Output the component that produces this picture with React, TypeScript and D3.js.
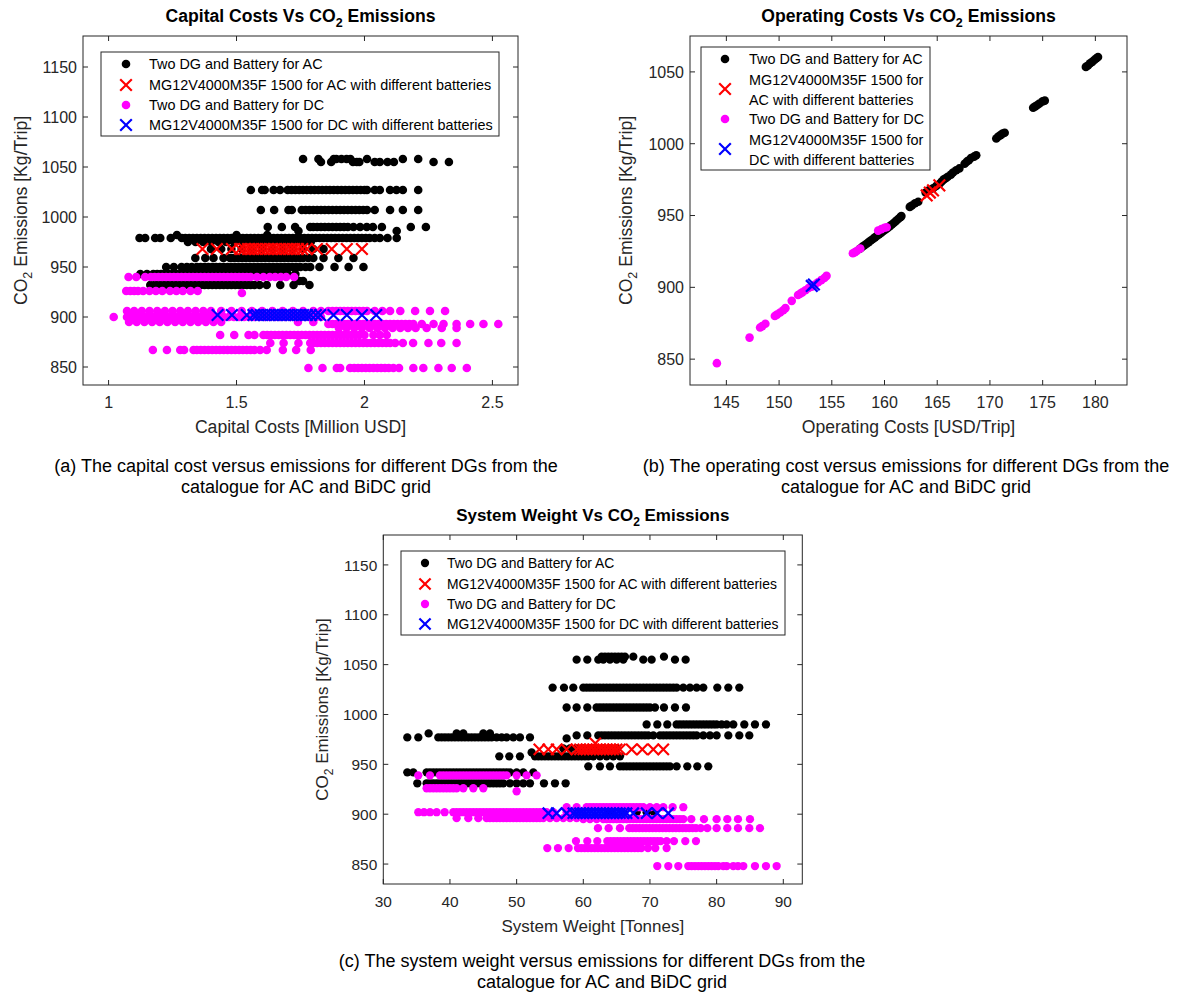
import React from "react";
import * as d3 from "d3";

type Row = [number, number[]];
type Pt = [number, number];

const FONT = "'Liberation Sans', Arial, Helvetica, sans-serif";
const AXIS = "#262626";

// ---------- Panel (a): Capital cost [Million USD] vs CO2 ----------
const capitalAC: Row[] = [
  [1058, [1.76, 1.82, 1.88, 1.89, 1.91, 1.93, 1.945, 2.01, 2.15, 2.21]],
  [1055, [1.83, 1.87, 1.955, 1.97, 1.98, 2.04, 2.06, 2.09, 2.115, 2.27, 2.33]],
  [1027, [1.556, 1.6, 1.61, 1.645, 1.67, 1.7, 1.715, 1.73, 1.745, 1.76, 1.775, 1.79, 1.805, 1.82, 1.835, 1.85, 1.865, 1.88, 1.895, 1.91, 1.925, 1.94, 1.955, 1.97, 1.985, 2.0, 2.01, 2.04, 2.06, 2.1, 2.125, 2.15, 2.21]],
  [1007, [1.595, 1.647, 1.703, 1.716, 1.755, 1.77, 1.785, 1.8, 1.815, 1.83, 1.845, 1.86, 1.875, 1.89, 1.905, 1.92, 1.935, 1.95, 1.965, 1.98, 1.995, 2.01, 2.04, 2.1, 2.15, 2.21]],
  [990, [1.622, 1.677, 1.729, 1.788, 1.8, 1.815, 1.83, 1.845, 1.86, 1.875, 1.89, 1.905, 1.92, 1.935, 1.957, 1.983, 2.009, 2.033, 2.068, 2.181, 2.24]],
  [986, [1.742, 2.126]],
  [982, [1.267, 1.5, 1.62]],
  [979, [1.121, 1.143, 1.182, 1.202, 1.243, 1.286, 1.3, 1.315, 1.33, 1.345, 1.36, 1.375, 1.39, 1.405, 1.42, 1.435, 1.45, 1.465, 1.48, 1.495, 1.51, 1.525, 1.54, 1.555, 1.57, 1.585, 1.6, 1.615, 1.63, 1.645, 1.66, 1.675, 1.69, 1.705, 1.72, 1.735, 1.75, 1.765, 1.78, 1.795, 1.81, 1.825, 1.84, 1.855, 1.87, 1.885, 1.9, 1.915, 1.93, 1.945, 1.96, 1.975, 1.99, 2.005, 2.02, 2.04, 2.06, 2.09, 2.126]],
  [975, [1.31, 1.34, 1.37, 1.4, 1.43, 1.46, 1.49, 1.52, 1.55, 1.58, 1.61, 1.64, 1.67, 1.7, 1.73, 1.76, 1.79]],
  [968, [1.4, 1.44, 1.48, 1.52, 1.56, 1.6, 1.64, 1.68, 1.72, 1.76, 1.8, 1.84]],
  [959, [1.339, 1.378, 1.41, 1.449, 1.475, 1.49, 1.505, 1.52, 1.535, 1.55, 1.565, 1.58, 1.595, 1.61, 1.625, 1.64, 1.655, 1.67, 1.685, 1.7, 1.715, 1.73, 1.745, 1.76, 1.78, 1.8, 1.84, 1.898, 1.957]],
  [950, [1.225, 1.255, 1.285, 1.306, 1.325, 1.345, 1.36, 1.375, 1.39, 1.405, 1.42, 1.435, 1.45, 1.465, 1.48, 1.495, 1.51, 1.525, 1.54, 1.555, 1.57, 1.585, 1.6, 1.615, 1.63, 1.645, 1.66, 1.675, 1.69, 1.705, 1.72, 1.735, 1.75, 1.77, 1.788, 1.824, 1.883, 1.938, 1.996]],
  [943, [1.124, 1.15, 1.175, 1.19, 1.205, 1.22, 1.235, 1.25, 1.265, 1.28, 1.295, 1.31, 1.325, 1.34, 1.355, 1.37, 1.385, 1.4, 1.415, 1.43, 1.445, 1.46, 1.475, 1.49, 1.505, 1.52, 1.535, 1.55, 1.565, 1.58, 1.6, 1.62, 1.64, 1.66, 1.68, 1.7, 1.73]],
  [936, [1.745, 1.76]],
  [932, [1.163, 1.18, 1.195, 1.21, 1.225, 1.24, 1.255, 1.27, 1.285, 1.3, 1.315, 1.33, 1.345, 1.36, 1.375, 1.39, 1.405, 1.42, 1.435, 1.45, 1.465, 1.48, 1.495, 1.51, 1.525, 1.54, 1.555, 1.57, 1.59, 1.618, 1.671, 1.723, 1.785]],
  [902, [1.12, 1.56, 1.58]],
];
const capitalACMG: Row[] = [
  [968, [1.367, 1.423, 1.482, 1.514, 1.53, 1.545, 1.56, 1.575, 1.59, 1.605, 1.62, 1.635, 1.65, 1.665, 1.68, 1.695, 1.71, 1.725, 1.74, 1.757, 1.775, 1.814, 1.872, 1.931, 1.99]],
];
const capitalDC: Row[] = [
  [940, [1.078, 1.108, 1.143, 1.165, 1.18, 1.195, 1.21, 1.225, 1.24, 1.255, 1.27, 1.285, 1.3, 1.315, 1.33, 1.345, 1.36, 1.375, 1.39, 1.405, 1.42, 1.435, 1.45, 1.465, 1.48, 1.495, 1.51, 1.525, 1.54, 1.555, 1.58, 1.605, 1.63, 1.651, 1.673, 1.694, 1.725]],
  [926, [1.069, 1.085, 1.1, 1.115, 1.135, 1.16, 1.185, 1.21, 1.24, 1.265, 1.29, 1.32, 1.348]],
  [924, [1.521]],
  [906, [1.072, 1.1, 1.13, 1.16, 1.19, 1.22, 1.25, 1.28, 1.31, 1.34, 1.37, 1.4, 1.44, 1.48, 1.52, 1.56, 1.6, 1.64, 1.68, 1.72, 1.76, 1.8, 1.83, 1.859, 1.875, 1.89, 1.905, 1.92, 1.935, 1.95, 1.965, 1.98, 1.995, 2.01, 2.04, 2.07, 2.1, 2.14, 2.198, 2.256, 2.315]],
  [900, [1.02, 1.072, 1.085, 1.1, 1.115, 1.13, 1.145, 1.16, 1.175, 1.19, 1.205, 1.22, 1.235, 1.25, 1.265, 1.28, 1.295, 1.31, 1.325, 1.34, 1.355, 1.37, 1.385, 1.4, 1.415, 1.43, 1.45, 1.47, 1.49, 1.51, 1.53, 1.55, 1.57, 1.59, 1.61, 1.63, 1.65, 1.67, 1.69, 1.71, 1.73, 1.75, 1.77, 1.79, 1.81, 1.83]],
  [895, [1.08, 1.11, 1.14, 1.17, 1.2, 1.23, 1.26, 1.29, 1.32, 1.35, 1.38, 1.41, 1.44, 1.74, 1.8]],
  [893, [1.859, 1.875, 1.89, 1.905, 1.92, 1.935, 1.95, 1.965, 1.98, 1.995, 2.01, 2.025, 2.04, 2.055, 2.07, 2.085, 2.1, 2.115, 2.13, 2.145, 2.16, 2.175, 2.191, 2.224, 2.27, 2.309, 2.36, 2.413, 2.465, 2.523]],
  [889, [1.9, 1.93, 1.96, 1.99, 2.02, 2.05, 2.08, 2.11, 2.14, 2.17, 2.2, 2.243, 2.302, 2.36]],
  [882, [1.436, 1.491, 1.547, 1.57, 1.605, 1.62, 1.635, 1.65, 1.665, 1.68, 1.695, 1.71, 1.725, 1.74, 1.755, 1.77, 1.785, 1.8, 1.815, 1.83, 1.845, 1.86, 1.875, 1.89, 1.905, 1.92, 1.935, 1.95, 1.965, 1.98, 2.0, 2.035, 2.06, 2.087]],
  [874, [1.632, 1.684, 1.742, 1.788, 1.8, 1.815, 1.83, 1.845, 1.86, 1.875, 1.89, 1.905, 1.92, 1.935, 1.95, 1.965, 1.98, 1.995, 2.01, 2.025, 2.04, 2.055, 2.07, 2.085, 2.1, 2.12, 2.15, 2.19, 2.25, 2.3, 2.36]],
  [867, [1.173, 1.228, 1.28, 1.295, 1.332, 1.345, 1.36, 1.375, 1.39, 1.405, 1.42, 1.435, 1.45, 1.465, 1.48, 1.495, 1.51, 1.525, 1.54, 1.555, 1.57, 1.592, 1.618, 1.681, 1.733, 1.79]],
  [849, [1.781, 1.836, 1.892, 1.905, 1.944, 1.96, 1.975, 1.99, 2.005, 2.02, 2.035, 2.05, 2.065, 2.08, 2.095, 2.113, 2.135, 2.191, 2.23, 2.289, 2.341, 2.4]],
];
const capitalDCMG: Row[] = [
  [902, [1.426, 1.482, 1.54, 1.566, 1.58, 1.595, 1.61, 1.625, 1.64, 1.655, 1.67, 1.685, 1.7, 1.715, 1.73, 1.745, 1.76, 1.775, 1.79, 1.81, 1.827, 1.879, 1.931, 1.99, 2.046]],
];
const capitalXTicks = [1, 1.5, 2, 2.5];
const emissionTicksTall = [850, 900, 950, 1000, 1050, 1100, 1150];

// ---------- Panel (b): Operating cost [USD/Trip] vs CO2 ----------
const operatingAC: Pt[] = [
  [179.1, 1053.5], [179.3, 1054.5], [179.5, 1056], [179.7, 1057], [179.9, 1058.3], [180.1, 1059.5], [180.25, 1060.4],
  [174.1, 1025], [174.3, 1026], [174.5, 1027], [174.7, 1028], [175.0, 1029.5], [175.2, 1030],
  [170.6, 1003.6], [170.8, 1005], [171.0, 1006], [171.2, 1007], [171.4, 1007.6],
  [167.6, 986], [167.8, 987.5], [168.0, 988.5], [168.2, 990], [168.5, 991], [168.7, 992],
  [163.9, 966], [164.2, 967.5], [164.6, 969], [164.9, 970.5], [165.2, 972], [165.4, 973.5],
  [165.6, 975], [165.8, 976], [166.0, 977], [166.3, 978.5], [166.5, 980], [166.8, 981.5], [167.1, 982.8],
  [162.4, 956], [162.6, 957], [162.9, 958.5], [163.2, 959.6],
  [157.7, 927], [157.9, 928.3], [158.1, 929.3], [158.3, 930.4], [158.5, 931.5], [158.7, 932.6], [158.9, 933.7],
  [159.1, 934.8], [159.3, 935.9], [159.5, 937], [159.7, 938.1], [159.9, 939.2], [160.1, 940.3], [160.3, 941.4],
  [160.5, 942.6], [160.7, 943.8], [160.9, 945], [161.1, 946.3], [161.3, 947.6], [161.5, 948.9], [161.6, 949.6],
];
const operatingACMG: Pt[] = [
  [164.0, 964], [164.3, 966], [164.6, 967.5], [165.2, 971],
];
const operatingDC: Pt[] = [
  [159.4, 939.5], [159.7, 940.5], [160.0, 941.5], [160.2, 941.8],
  [157.0, 923.7], [157.2, 924.5], [157.4, 925.5], [157.7, 927],
  [151.8, 894.7], [152.0, 895.5], [152.2, 896.5], [152.5, 898], [152.8, 899.5], [153.1, 900.5], [153.4, 902],
  [153.7, 903.5], [154.0, 905], [154.3, 906.5], [154.5, 908],
  [151.2, 890.6],
  [149.6, 880], [149.8, 881], [150.1, 882.5], [150.4, 884], [150.6, 885.5],
  [148.2, 872], [148.4, 873], [148.7, 874.6],
  [147.2, 865],
  [144.1, 847.2],
];
const operatingDCMG: Pt[] = [
  [153.1, 901], [153.3, 902],
];
const operatingXTicks = [145, 150, 155, 160, 165, 170, 175, 180];
const emissionTicksShort = [850, 900, 950, 1000, 1050];

// ---------- Panel (c): System weight [Tonnes] vs CO2 ----------
const weightAC: Row[] = [
  [1058, [62.75, 63.25, 63.75, 64.25, 64.75, 65.25, 65.75, 66.25, 67.5, 72.1]],
  [1055, [59.0, 60.6, 62.25, 63.0, 64.0, 65.0, 66.0, 69.0, 70.25, 73.75, 75.35]],
  [1027, [55.4, 57.1, 58.5, 60.0, 60.5, 61.0, 61.5, 62.0, 62.5, 63.0, 63.5, 64.0, 64.5, 65.0, 65.5, 66.0, 66.5, 67.0, 67.5, 68.0, 68.5, 69.0, 69.5, 70.0, 70.5, 71.0, 71.5, 72.0, 72.5, 73.0, 73.5, 74.0, 75.0, 76.0, 77.0, 78.0, 80.1, 81.75, 83.4]],
  [1007, [57.5, 59.0, 60.6, 62.0, 62.5, 63.0, 63.5, 64.0, 64.5, 65.0, 65.5, 66.0, 66.5, 67.0, 67.5, 68.0, 68.5, 69.0, 69.5, 70.0, 70.75, 72.1, 73.75, 75.4]],
  [990, [69.5, 71.1, 72.6, 74.0, 74.5, 75.0, 75.5, 76.0, 76.5, 77.0, 77.5, 78.0, 78.5, 79.0, 79.5, 80.0, 80.75, 81.5, 82.5, 84.15, 85.75, 87.4]],
  [979, [59.0, 60.6, 62.25, 62.75, 63.25, 63.75, 64.25, 64.75, 65.25, 65.75, 66.25, 66.75, 67.25, 67.75, 68.25, 68.75, 69.25, 69.75, 70.5, 71.5, 72.0, 72.5, 73.0, 73.5, 74.0, 74.5, 75.0, 75.5, 76.0, 76.5, 77.0, 78.0, 79.0, 80.0, 81.75, 83.4, 84.9]],
  [976, [57.5]],
  [966, [57, 58, 59, 60, 61, 62, 63, 64, 65]],
  [962, [52.25]],
  [958, [47.4, 48.9, 50.5, 52.75, 53.25, 53.75, 54.25, 54.75, 55.25, 55.75, 56.25, 56.75, 57.25, 57.75, 58.25, 58.75, 59.25, 59.75, 60.25, 60.75, 61.5, 62.5, 63.5, 64.5, 65.5]],
  [948, [60.75, 62.5, 64.0, 65.5, 66.0, 66.5, 67.0, 67.5, 68.0, 68.5, 69.0, 69.5, 70.0, 70.5, 71.0, 71.5, 72.0, 72.5, 73.0, 74.0, 75.6, 77.1, 78.75]],
  [981, [36.8, 41.0, 42.0, 45.0, 46.0]],
  [977, [33.6, 35.25, 38.25, 38.75, 39.25, 39.75, 40.25, 40.75, 41.25, 41.75, 42.25, 42.75, 43.25, 43.75, 44.25, 44.75, 45.25, 45.75, 46.25, 47.0, 47.75, 48.5, 49.5, 50.5, 52.0]],
  [942, [33.6, 34.5, 36.5, 37.0, 37.5, 38.0, 38.5, 39.0, 39.5, 40.0, 40.5, 41.0, 41.5, 42.0, 42.5, 43.0, 43.5, 44.0, 44.5, 45.0, 45.5, 46.0, 46.5, 47.0, 47.5, 48.0, 48.5, 49.0, 50.0, 51.0, 52.5]],
  [931, [35.1, 36.5, 37.0, 37.5, 38.0, 38.5, 39.0, 39.5, 40.0, 40.5, 41.0, 41.5, 42.0, 42.5, 43.0, 43.5, 44.0, 44.5, 45.0, 45.5, 46.0, 46.5, 47.0, 47.5, 48.0, 49.0, 50.0, 51.0, 52.0, 54.1, 55.75, 57.35]],
  [902, [64.0, 66.0, 68.0, 69.5, 70.6]],
];
const weightACMG: Row[] = [
  [965, [53.4, 54.75, 56.0, 57.5, 59.0, 59.5, 60.0, 60.5, 61.0, 61.5, 62.0, 62.5, 63.0, 63.5, 64.0, 64.5, 65.0, 65.5, 67.25, 68.85, 70.5, 72.0]],
  [971, [61.8]],
];
const weightDC: Row[] = [
  [939, [35.25, 37.0, 38.5, 39.0, 39.5, 40.0, 40.5, 41.0, 41.5, 42.0, 42.5, 43.0, 43.5, 44.0, 44.5, 45.0, 45.5, 46.0, 46.5, 47.0, 47.5, 48.0, 48.5, 50.0, 51.5, 53.0]],
  [926, [36.5, 37.0, 37.5, 38.0, 38.5, 39.0, 39.5, 40.0, 40.5, 41.0, 42.0, 43.5, 45.0]],
  [923, [50.0]],
  [907, [57.5, 59.0, 60.5, 61.0, 61.5, 62.0, 62.5, 63.0, 63.5, 64.0, 64.5, 65.0, 65.5, 66.0, 66.5, 67.0, 67.5, 68.0, 68.5, 69.0, 70.0, 71.0, 72.0, 73.4, 75.0]],
  [902, [35.25, 36.1, 37.0, 38.0, 39.2, 40.5, 41.0, 41.5, 42.0, 42.5, 43.0, 43.5, 44.0, 44.5, 45.0, 45.5, 46.0, 46.5, 47.0, 47.5, 48.0, 48.5, 49.0, 49.5, 50.0, 50.5, 51.0, 51.5, 52.0, 52.5, 53.0, 53.5, 54.0, 54.5, 55.5, 57.5, 58.5, 59.5]],
  [896, [41.0, 42.75, 44.25, 45.5, 46.0, 46.5, 47.0, 47.5, 48.0, 48.5, 49.0, 49.5, 50.0, 50.5, 51.0, 51.5, 52.0, 52.5, 53.0, 53.5, 54.0, 55.0, 56.0, 57.0, 58.0, 59.0]],
  [895, [60.0, 61.0, 62.0, 63.0, 63.5, 64.0, 64.5, 65.0, 65.5, 66.0, 66.5, 67.0, 67.5, 68.0, 68.5, 69.0, 69.5, 70.0, 70.5, 71.0, 71.5, 72.0, 72.5, 73.0, 73.5, 74.0, 74.5, 75.0, 76.2, 78.1, 80.0, 81.6, 83.2, 85.0]],
  [886, [62.2, 63.8, 65.5, 66.9, 67.4, 67.9, 68.4, 68.9, 69.4, 69.9, 70.4, 70.9, 71.4, 71.9, 72.4, 72.9, 73.4, 73.9, 74.4, 74.9, 75.4, 75.9, 76.4, 76.9, 77.6, 78.6, 80.0, 81.6, 83.2, 84.9, 86.5]],
  [873, [58.9, 60.6, 62.1, 63.6, 64.1, 64.6, 65.1, 65.6, 66.1, 66.6, 67.1, 67.6, 68.1, 68.6, 69.1, 69.6, 70.1, 70.6, 71.1, 71.6, 72.5, 73.6, 75.3, 76.9]],
  [866, [54.6, 56.2, 57.8, 59.2, 59.7, 60.2, 60.7, 61.2, 61.7, 62.2, 62.7, 63.2, 63.7, 64.2, 64.7, 65.2, 65.7, 66.2, 66.7, 67.2, 67.7, 68.2, 68.7, 69.7, 70.8, 72.5]],
  [848, [71.1, 72.75, 74.25, 75.75, 76.25, 76.75, 77.25, 77.75, 78.25, 78.75, 79.25, 79.75, 80.25, 81.0, 81.5, 82.5, 83.2, 84.0, 85.75, 87.4, 89.0]],
];
const weightDCMG: Row[] = [
  [901, [54.75, 56.0, 57.5, 58.5, 59.0, 59.5, 60.0, 60.5, 61.0, 61.5, 62.0, 62.5, 63.0, 63.5, 64.0, 64.5, 65.0, 65.5, 66.0, 66.5, 67.5, 69.5, 71.1, 72.75]],
];
const weightXTicks = [30, 40, 50, 60, 70, 80, 90];

const seriesNames = [
  "Two DG and Battery for AC",
  "MG12V4000M35F 1500 for AC with different batteries",
  "Two DG and Battery for DC",
  "MG12V4000M35F 1500 for DC with different batteries",
];

const captions = [
  ["(a) The capital cost versus emissions for different DGs from the", "catalogue for AC and BiDC grid"],
  ["(b) The operating cost versus emissions for different DGs from the", "catalogue for AC and BiDC grid"],
  ["(c) The system weight versus emissions for different DGs from the", "catalogue for AC and BiDC grid"],
];

function fromRows(rows: Row[]): Pt[] {
  const out: Pt[] = [];
  rows.forEach(([yv, xs]) => xs.forEach((xv) => out.push([xv, yv])));
  return out;
}

type Kind = "dot" | "cross";
interface Series { points: Pt[]; kind: Kind; color: string; }

function Marker({ cx, cy, kind, color, s }: { cx: number; cy: number; kind: Kind; color: string; s: number }) {
  if (kind === "dot") return <circle cx={cx} cy={cy} r={4.3 * s} fill={color} />;
  const c = 5.8 * s;
  return (
    <path
      d={`M${cx - c},${cy - c}L${cx + c},${cy + c}M${cx - c},${cy + c}L${cx + c},${cy - c}`}
      stroke={color}
      strokeWidth={2.2}
      fill="none"
    />
  );
}

interface LegendItem { kind: Kind; color: string; my: number; lines: { t: string; y: number }[]; }
interface LegendSpec { x0: number; y0: number; x1: number; y1: number; mx: number; tx: number; items: LegendItem[]; }

interface PanelProps {
  box: { l: number; r: number; t: number; b: number };
  xDomain: [number, number];
  yDomain: [number, number];
  xTicks: number[];
  yTicks: number[];
  series: Series[];
  title: string;
  titleY: number;
  xLabel: string;
  yLabelX: number;
  legend: LegendSpec;
  s: number;
}

function Panel(p: PanelProps) {
  const { box, s } = p;
  const x = d3.scaleLinear().domain(p.xDomain).range([box.l, box.r]);
  const y = d3.scaleLinear().domain(p.yDomain).range([box.b, box.t]);
  const tk = 5;
  const cx = (box.l + box.r) / 2;
  const cy = (box.t + box.b) / 2;
  const tickFs = 16 * s;
  const labFs = 17.6 * s;
  const legFs = 14.4 * s;
  return (
    <g fontFamily={FONT}>
      <g>
        {p.series.map((sr, si) => (
          <g key={si}>
            {sr.points.map((d, i) => (
              <Marker key={i} cx={x(d[0])} cy={y(d[1])} kind={sr.kind} color={sr.color} s={s} />
            ))}
          </g>
        ))}
      </g>
      <rect x={box.l} y={box.t} width={box.r - box.l} height={box.b - box.t} fill="none" stroke={AXIS} strokeWidth={1} />
      {p.xTicks.map((v) => (
        <g key={"x" + v}>
          <line x1={x(v)} x2={x(v)} y1={box.b} y2={box.b - tk} stroke={AXIS} />
          <line x1={x(v)} x2={x(v)} y1={box.t} y2={box.t + tk} stroke={AXIS} />
          <text x={x(v)} y={box.b + 23} textAnchor="middle" fontSize={tickFs} fill={AXIS}>{String(v)}</text>
        </g>
      ))}
      {p.yTicks.map((v) => (
        <g key={"y" + v}>
          <line x1={box.l} x2={box.l + tk} y1={y(v)} y2={y(v)} stroke={AXIS} />
          <line x1={box.r} x2={box.r - tk} y1={y(v)} y2={y(v)} stroke={AXIS} />
          <text x={box.l - 6} y={y(v) + 5.8 * s} textAnchor="end" fontSize={tickFs} fill={AXIS}>{String(v)}</text>
        </g>
      ))}
      <text x={cx} y={box.b + 48} textAnchor="middle" fontSize={labFs} fill={AXIS}>{p.xLabel}</text>
      <text transform={`translate(${p.yLabelX},${cy}) rotate(-90)`} textAnchor="middle" fontSize={labFs} fill={AXIS}>
        CO<tspan dy={5} fontSize={12.5 * s}>2</tspan><tspan dy={-5}> Emissions [Kg/Trip]</tspan>
      </text>
      <text x={cx} y={p.titleY} textAnchor="middle" fontSize={labFs} fontWeight="bold" fill="#000">
        {p.title} Vs CO<tspan dy={5} fontSize={12.5 * s}>2</tspan><tspan dy={-5}> Emissions</tspan>
      </text>
      <rect x={p.legend.x0} y={p.legend.y0} width={p.legend.x1 - p.legend.x0} height={p.legend.y1 - p.legend.y0} fill="#fff" stroke={AXIS} strokeWidth={1} />
      {p.legend.items.map((it, i) => (
        <g key={i}>
          <Marker cx={p.legend.mx} cy={it.my} kind={it.kind} color={it.color} s={s} />
          {it.lines.map((ln, j) => (
            <text key={j} x={p.legend.tx} y={ln.y + 5 * s} fontSize={legFs} fill="#000">{ln.t}</text>
          ))}
        </g>
      ))}
    </g>
  );
}

function makeSeries(ac: Pt[], acmg: Pt[], dc: Pt[], dcmg: Pt[]): Series[] {
  return [
    { points: ac, kind: "dot", color: "#000000" },
    { points: acmg, kind: "cross", color: "#ff0000" },
    { points: dc, kind: "dot", color: "#ff00ff" },
    { points: dcmg, kind: "cross", color: "#0000ff" },
  ];
}

const kinds: Kind[] = ["dot", "cross", "dot", "cross"];
const colors = ["#000000", "#ff0000", "#ff00ff", "#0000ff"];

function wideLegend(x0: number, y0: number, x1: number, y1: number, mx: number, tx: number, rows: number[]): LegendSpec {
  return {
    x0, y0, x1, y1, mx, tx,
    items: seriesNames.map((n, i) => ({ kind: kinds[i], color: colors[i], my: rows[i], lines: [{ t: n, y: rows[i] }] })),
  };
}

export default function App() {
  const legendB: LegendSpec = {
    x0: 701, y0: 47, x1: 930, y1: 170, mx: 725, tx: 749,
    items: [
      { kind: "dot", color: colors[0], my: 59, lines: [{ t: seriesNames[0], y: 59 }] },
      { kind: "cross", color: colors[1], my: 89, lines: [{ t: "MG12V4000M35F 1500 for", y: 80 }, { t: "AC with different batteries", y: 99.5 }] },
      { kind: "dot", color: colors[2], my: 119, lines: [{ t: seriesNames[2], y: 119 }] },
      { kind: "cross", color: colors[3], my: 149, lines: [{ t: "MG12V4000M35F 1500 for", y: 140 }, { t: "DC with different batteries", y: 160 }] },
    ],
  };
  return (
    <svg width={1182} height={993} style={{ position: "absolute", left: 0, top: 0, background: "#fff" }}>
      <rect width={1182} height={993} fill="#fff" />
      <Panel
        box={{ l: 83, r: 518, t: 36, b: 385 }}
        xDomain={[0.9, 2.6]}
        yDomain={[832, 1181]}
        xTicks={capitalXTicks}
        yTicks={emissionTicksTall}
        series={makeSeries(fromRows(capitalAC), fromRows(capitalACMG), fromRows(capitalDC), fromRows(capitalDCMG))}
        title="Capital Costs"
        titleY={22}
        xLabel="Capital Costs [Million USD]"
        yLabelX={27}
        legend={wideLegend(101, 52, 499, 136, 126, 149, [64, 85, 105, 125])}
        s={1}
      />
      <Panel
        box={{ l: 690, r: 1127, t: 36, b: 385 }}
        xDomain={[141.55, 183]}
        yDomain={[832, 1075]}
        xTicks={operatingXTicks}
        yTicks={emissionTicksShort}
        series={makeSeries(operatingAC, operatingACMG, operatingDC, operatingDCMG)}
        title="Operating Costs"
        titleY={22}
        xLabel="Operating Costs [USD/Trip]"
        yLabelX={632}
        legend={legendB}
        s={1}
      />
      <Panel
        box={{ l: 383.3, r: 802.3, t: 535, b: 884 }}
        xDomain={[30, 92.85]}
        yDomain={[830, 1180]}
        xTicks={weightXTicks}
        yTicks={emissionTicksTall}
        series={makeSeries(fromRows(weightAC), fromRows(weightACMG), fromRows(weightDC), fromRows(weightDCMG))}
        title="System Weight"
        titleY={521}
        xLabel="System Weight [Tonnes]"
        yLabelX={328}
        legend={wideLegend(401, 551, 785, 635, 425, 447, [563, 584, 604, 624])}
        s={0.965}
      />
      <g fontFamily={FONT} fontSize={18} fill="#000" textAnchor="middle">
        <text x={306} y={472}>{captions[0][0]}</text>
        <text x={306} y={493}>{captions[0][1]}</text>
        <text x={906} y={472}>{captions[1][0]}</text>
        <text x={906} y={493}>{captions[1][1]}</text>
        <text x={602} y={967}>{captions[2][0]}</text>
        <text x={602} y={988}>{captions[2][1]}</text>
      </g>
    </svg>
  );
}
